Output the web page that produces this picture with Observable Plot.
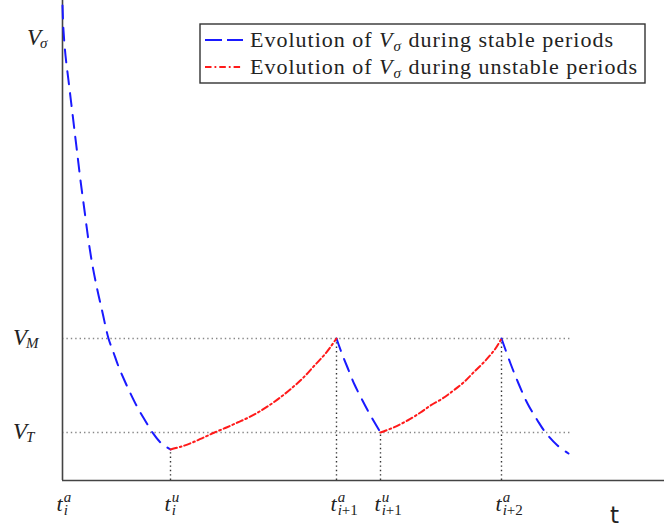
<!DOCTYPE html>
<html><head><meta charset="utf-8">
<script src="https://cdn.jsdelivr.net/npm/d3@7"></script>
<script src="https://cdn.jsdelivr.net/npm/@observablehq/plot@0.6"></script>
<style>
body{margin:0;background:#fff;}
#wrap{position:relative;width:667px;height:527px;overflow:hidden;}
#legend{position:absolute;left:199px;top:23px;}
</style>
</head><body>
<div id="wrap"></div>
<script>
// ---- data (time units, value units) ----
const stable1T = [0,1,3,6,9,12,15,18,22,26,30,35,40,46,51,56,62,68,75,82,90,98,108];
const stable1V = [475,450,425,400,375,350,325,300,270,240,215,190,168,142,128,114,100,87,73,61,48,38,31];
const unstable1T = [108,119,130,141,152,164,175,186,197,208,219,230,241,252,263,274];
const unstable1V = [31,34,38,43,48,53,58,63,69,76,84,93,103,115,127,142];
const stable2T = [274,279,285,292,300,308,318];
const stable2V = [142,128,113,96,80,65,48];
const unstable2T = [318,331,345,358,368,380,391,401,411,423,433,439];
const unstable2V = [48,53,60,68,75,82,90,98,108,120,132,142];
const stable3T = [439,448,456,465,475,483,495,506];
const stable3V = [142,117,97,77,60,48,35,27];

const levelNames = ["σ","M","T"];
const levelValues = [442,142,48];
const switchTimes = [108,274,318,439];
const switchValues = [31,142,48,142];
const tickTimes = [0,108,274,318,439];
const tickSup = ["a","u","a","u","a"];
const tickSubI = ["i","i","i","i","i"];
const tickSubRest = ["","","+1","+1","+2"];
const axisName = "t";
const guideEnd = 508;
const tDomain = [0,602];
const vDomain = [0,480];

// ---- tables ----
function seg(name, T, V){ return T.map((t,i)=>({seg:name, t, v:V[i]})); }
const stableRows = [...seg("s1",stable1T,stable1V), ...seg("s2",stable2T,stable2V), ...seg("s3",stable3T,stable3V)];
const unstableRows = [...seg("u1",unstable1T,unstable1V), ...seg("u2",unstable2T,unstable2V)];
const levels = levelNames.map((n,i)=>({name:n, v:levelValues[i]}));
const guides = levels.filter(d=>d.name!=="σ");
const switches = switchTimes.map((t,i)=>({t, v:switchValues[i]}));
const ticks = tickTimes.map((t,i)=>({t, sup:tickSup[i], subI:tickSubI[i], subRest:tickSubRest[i]}));

const serif = "'Liberation Serif', 'Times New Roman', serif";
const ink = "#222";

const chart = Plot.plot({
  width:667, height:527,
  marginLeft:62, marginRight:3, marginTop:0, marginBottom:47,
  x:{domain:tDomain, axis:null},
  y:{domain:vDomain, axis:null},
  marks:[
    Plot.ruleY(guides, {y:"v", x1:0, x2:guideEnd, stroke:"#888", strokeWidth:1.4, strokeDasharray:"1.4,3"}),
    Plot.ruleX(switches, {x:"t", y1:0, y2:"v", stroke:"#333", strokeWidth:1.4, strokeDasharray:"1.4,3"}),
    Plot.ruleX([0], {stroke:"#444", strokeWidth:1.6}),
    Plot.ruleY([0], {stroke:"#444", strokeWidth:1.6}),
    Plot.line(stableRows, {x:"t", y:"v", z:"seg", stroke:"#1a1aff", strokeWidth:2, strokeDasharray:"13,9", curve:"catmull-rom"}),
    Plot.line(unstableRows, {x:"t", y:"v", z:"seg", stroke:"#ff1a1a", strokeWidth:2, strokeDasharray:"6.5,3,1.8,3", curve:"catmull-rom"}),
    Plot.text([{label:axisName}], {frameAnchor:"bottom-right", text:"label", dx:-50, dy:42, textAnchor:"middle", lineAnchor:"bottom", fontFamily:"'DejaVu Sans', sans-serif", fontSize:23, fill:ink})
  ]
});
const wrap = document.getElementById("wrap");
wrap.appendChild(chart);

// ---- math tick labels, positioned through the plot's own scales ----
const xs = chart.scale("x"), ys = chart.scale("y");
const svg = d3.select(chart);
const gLab = svg.append("g").style("font-family", serif).attr("fill", ink).attr("text-anchor","start");
const baseY = ys.apply(0);
ticks.forEach(d=>{
  const tx = gLab.append("text").attr("x", xs.apply(d.t) - 5.5).attr("y", baseY + 31);
  tx.append("tspan").attr("font-style","italic").attr("font-size",22).text("t");
  tx.append("tspan").attr("font-style","italic").attr("font-size",15).attr("dx",1).attr("dy",-9).text(d.sup);
  tx.append("tspan").attr("font-style","italic").attr("font-size",15).attr("dx",-7.5).attr("dy",13).text(d.subI);
  if (d.subRest) tx.append("tspan").attr("font-size",15).text(d.subRest);
});
levels.forEach(d=>{
  const x0 = d.name === "σ" ? 27 : 13;
  const tx = gLab.append("text").attr("x", x0).attr("y", ys.apply(d.v) + 7);
  tx.append("tspan").attr("font-style","italic").attr("font-size",23).text("V");
  tx.append("tspan").attr("font-style","italic").attr("font-size",15).attr("dx",-1).attr("dy",3).text(d.name);
});

// ---- legend (inside the plot area, top right) ----
const legendItems = [
  {pre:"Evolution of ", post:" during stable periods", color:"#1a1aff", dash:"17,5"},
  {pre:"Evolution of ", post:" during unstable periods", color:"#ff1a1a", dash:"6.5,3,1.8,3"}
];
const lg = d3.select(wrap).append("svg").attr("id","legend").attr("width",448).attr("height",62);
lg.append("rect").attr("x",1).attr("y",1).attr("width",445).attr("height",59).attr("fill","#fff").attr("stroke","#333").attr("stroke-width",1.4);
legendItems.forEach((d,i)=>{
  const cy = 17 + i*27;
  lg.append("line").attr("x1",6).attr("x2",44).attr("y1",cy).attr("y2",cy).attr("stroke",d.color).attr("stroke-width",2).attr("stroke-dasharray",d.dash);
  const tx = lg.append("text").attr("x",51).attr("y",cy+7).style("font-family",serif).attr("font-size",22).style("letter-spacing","1px").attr("fill",ink);
  tx.append("tspan").text(d.pre);
  tx.append("tspan").attr("font-style","italic").text("V");
  tx.append("tspan").attr("font-style","italic").attr("font-size",15).attr("dy",4).text("σ");
  tx.append("tspan").attr("dy",-4).text(d.post);
});
</script>
</body></html>
